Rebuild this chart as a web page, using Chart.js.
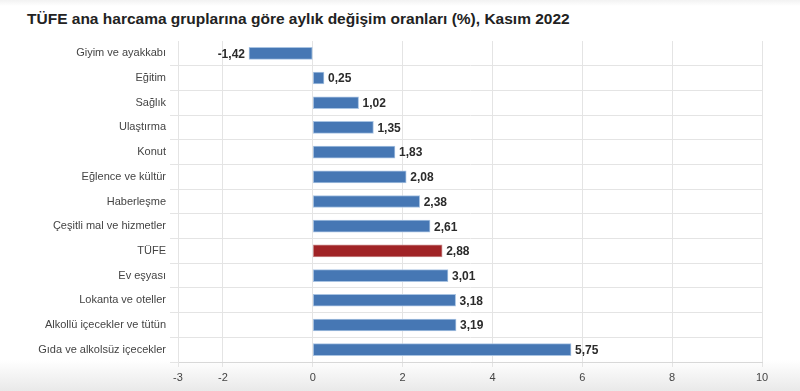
<!DOCTYPE html>
<html>
<head>
<meta charset="utf-8">
<script src="https://cdn.jsdelivr.net/npm/chart.js@4.4.0/dist/chart.umd.min.js"></script>
<style>
  html, body { margin: 0; padding: 0; }
  body {
    width: 800px; height: 391px; overflow: hidden; position: relative;
    background: linear-gradient(to bottom, #f2f2f2 0px, #ffffff 6px, #ffffff 360px, #e9e9e9 391px);
    font-family: "Liberation Sans", Arial, sans-serif;
  }
  #title {
    position: absolute; left: 27px; top: 10px;
    font-size: 15.5px; font-weight: bold; color: #222;
  }
  #wrap { position: absolute; left: 0; top: 0; width: 800px; height: 391px; }
</style>
</head>
<body>
<div id="title">TÜFE ana harcama gruplarına göre aylık değişim oranları (%), Kasım 2022</div>
<div id="wrap"><canvas id="chart"></canvas></div>
<script>
const categories = [
  'Giyim ve ayakkabı', 'Eğitim', 'Sağlık', 'Ulaştırma', 'Konut',
  'Eğlence ve kültür', 'Haberleşme', 'Çeşitli mal ve hizmetler', 'TÜFE',
  'Ev eşyası', 'Lokanta ve oteller', 'Alkollü içecekler ve tütün',
  'Gıda ve alkolsüz içecekler'
];
const values = [-1.42, 0.25, 1.02, 1.35, 1.83, 2.08, 2.38, 2.61, 2.88, 3.01, 3.18, 3.19, 5.75];
const xMin = -3;
const xMax = 10;

const blue = '#4677b4';
const red = '#a02326';
const barColors = categories.map(c => c === 'TÜFE' ? red : blue);
const barBorders = categories.map(c => c === 'TÜFE' ? '#c98a8a' : '#a8c3e2');

// value labels next to bar ends, decimal comma
const valueLabels = {
  id: 'valueLabels',
  afterDatasetsDraw(chart) {
    const ctx = chart.ctx;
    const meta = chart.getDatasetMeta(0);
    ctx.save();
    ctx.font = 'bold 12px "Liberation Sans", Arial, sans-serif';
    ctx.fillStyle = '#2b2b2b';
    ctx.textBaseline = 'middle';
    meta.data.forEach((bar, i) => {
      const v = values[i];
      const txt = v.toFixed(2).replace('.', ',');
      if (v >= 0) {
        ctx.textAlign = 'left';
        ctx.fillText(txt, bar.x + 4, bar.y + 1);
      } else {
        ctx.textAlign = 'right';
        ctx.fillText(txt, bar.x - 4, bar.y + 1);
      }
    });
    ctx.restore();
  }
};

new Chart(document.getElementById('chart'), {
  type: 'bar',
  data: {
    labels: categories,
    datasets: [{
      data: values,
      backgroundColor: barColors,
      borderColor: barBorders,
      borderWidth: 1,
      borderSkipped: false,
      barThickness: 12
    }]
  },
  options: {
    indexAxis: 'y',
    responsive: true,
    maintainAspectRatio: false,
    animation: false,
    layout: { padding: { top: 41, right: 38, left: 0, bottom: 0 } },
    plugins: { legend: { display: false }, tooltip: { enabled: false } },
    scales: {
      x: {
        min: xMin,
        max: xMax,
        ticks: { stepSize: 2, color: '#444', font: { size: 11 }, padding: 4,
                 callback: v => String(v) },
        grid: { color: '#e4e4e4', tickLength: 5 },
        border: { color: '#d8d8d8' },
        afterFit(scale) { scale.height = 29; }
      },
      y: {
        ticks: { color: '#444', font: { size: 11 }, padding: 4 },
        grid: { color: ctx => ctx.index === 0 ? 'rgba(0,0,0,0)' : '#e4e4e4', tickLength: 8 },
        border: { color: '#e4e4e4' },
        afterFit(scale) { scale.width = 178; }
      }
    }
  },
  plugins: [valueLabels]
});
</script>
</body>
</html>
